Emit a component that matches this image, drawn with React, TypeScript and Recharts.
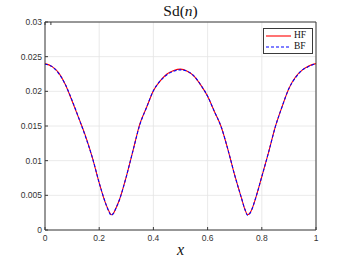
import { LineChart, Line, XAxis, YAxis, CartesianGrid, Legend } from 'recharts';

const X_VALUES = [
  0, 0.025, 0.05, 0.075, 0.1, 0.125, 0.15, 0.175, 0.2, 0.225, 0.2375, 0.244, 0.2525, 0.2625, 0.275,
  0.3, 0.325, 0.35, 0.375, 0.4, 0.425, 0.45, 0.475, 0.5, 0.525, 0.55, 0.575, 0.6, 0.625, 0.65, 0.675,
  0.7, 0.725, 0.7375, 0.748, 0.7575, 0.7675, 0.775, 0.8, 0.825, 0.85, 0.875, 0.9, 0.925, 0.95, 0.975, 1,
];

// brute force
const BF = [
  0.0239, 0.0236, 0.0226, 0.021, 0.0187, 0.0161, 0.0134, 0.0104, 0.0068, 0.0037, 0.0025, 0.0021, 0.0024, 0.0032, 0.0044,
  0.0077, 0.0115, 0.0152, 0.0177, 0.0201, 0.0215, 0.0224, 0.0229, 0.0231, 0.0229, 0.0222, 0.0209, 0.0193, 0.0171, 0.0149, 0.0116,
  0.0079, 0.0046, 0.003, 0.0021, 0.0025, 0.0034, 0.0043, 0.0077, 0.0112, 0.0149, 0.0178, 0.0204, 0.022, 0.0231, 0.0236, 0.024,
];

// HF has a little bit of jitter on top of BF
const HF = [
  0.024, 0.0236, 0.0227, 0.021, 0.0186, 0.0161, 0.0135, 0.0104, 0.0068, 0.0037, 0.0026, 0.0022, 0.0024, 0.0032, 0.0044,
  0.0077, 0.0115, 0.0153, 0.0177, 0.0201, 0.0215, 0.0225, 0.023, 0.0232, 0.0229, 0.0222, 0.0209, 0.0193, 0.0171, 0.0149, 0.0116,
  0.0079, 0.0046, 0.003, 0.0022, 0.0025, 0.0034, 0.0043, 0.0077, 0.0112, 0.0149, 0.0178, 0.0204, 0.0221, 0.0231, 0.0237, 0.024,
];

const X_TICKS = [0, 0.2, 0.4, 0.6, 0.8, 1];
const Y_TICKS = [0, 0.005, 0.01, 0.015, 0.02, 0.025, 0.03];

const data = X_VALUES.map((x, i) => ({ x, hf: HF[i], bf: BF[i] }));

const AXIS = '#3a3a3a';
const GRID = '#e4e4e4';
const TICK_FONT = { fontSize: 8.5, fill: '#333', fontFamily: '"Liberation Sans", Arial, sans-serif' };
const SERIF = '"Liberation Serif", "Times New Roman", serif';

function LegendBox() {
  const row = (label: string, color: string, dash?: string) => (
    <div style={{ display: 'flex', alignItems: 'center', height: 11 }}>
      <svg width={27} height={4} style={{ display: 'block' }}>
        <line x1={1} y1={2} x2={26} y2={2} stroke={color} strokeWidth={1.1} strokeDasharray={dash} />
      </svg>
      <span style={{ marginLeft: 2, fontFamily: SERIF, fontSize: 9.5, color: '#111', lineHeight: '11px' }}>{label}</span>
    </div>
  );
  return (
    <div
      style={{
        border: '1px solid #3a3a3a',
        background: '#fff',
        width: 47,
        height: 23,
        padding: '1px 0 0 1px',
        boxSizing: 'content-box',
      }}
    >
      {row('HF', '#ff0000')}
      {row('BF', '#0000ff', '3 2')}
    </div>
  );
}

export default function App() {
  return (
    <div style={{ position: 'absolute', left: 0, top: 0, width: 349, height: 262, background: '#fff' }}>
      <div
        style={{
          position: 'absolute',
          left: 0,
          width: 361,
          top: 2,
          textAlign: 'center',
          fontFamily: SERIF,
          fontSize: 15.5,
          color: '#111',
          lineHeight: '18px',
        }}
      >
        Sd(<i>n</i>)
      </div>
      <div
        style={{
          position: 'absolute',
          left: 0,
          width: 361,
          top: 241,
          textAlign: 'center',
          fontFamily: SERIF,
          fontStyle: 'italic',
          fontSize: 16,
          color: '#111',
          lineHeight: '18px',
        }}
      >
        x
      </div>
      <LineChart width={349} height={262} data={data} margin={{ top: 21, right: 32, bottom: 12, left: 0 }}>
        <CartesianGrid stroke={GRID} strokeWidth={0.8} />
        <XAxis
          dataKey="x"
          type="number"
          domain={[0, 1]}
          ticks={X_TICKS}
          height={20}
          tick={TICK_FONT}
          tickSize={-3}
          tickMargin={8}
          stroke={AXIS}
          tickLine={{ stroke: AXIS }}
        />
        <XAxis
          xAxisId="top"
          orientation="top"
          type="number"
          domain={[0, 1]}
          ticks={X_TICKS}
          height={1}
          tickSize={-3}
          tickFormatter={() => ''}
          stroke={AXIS}
        />
        <YAxis
          type="number"
          domain={[0, 0.03]}
          ticks={Y_TICKS}
          width={45}
          tick={TICK_FONT}
          tickSize={-3}
          tickMargin={6}
          stroke={AXIS}
          tickLine={{ stroke: AXIS }}
          allowDataOverflow
        />
        <YAxis
          yAxisId="right"
          orientation="right"
          type="number"
          domain={[0, 0.03]}
          ticks={Y_TICKS}
          width={1}
          tickSize={-3}
          tickFormatter={() => ''}
          stroke={AXIS}
        />
        <Legend
          verticalAlign="middle"
          align="center"
          content={() => <LegendBox />}
          wrapperStyle={{ position: 'absolute', top: 28, left: 263, width: 49 }}
        />
        <Line type="monotone" dataKey="hf" stroke="#ff0000" strokeWidth={1.1} dot={false} isAnimationActive={false} />
        <Line
          type="monotone"
          dataKey="bf"
          stroke="#0000ff"
          strokeWidth={1.1}
          strokeDasharray="3 2"
          dot={false}
          isAnimationActive={false}
        />
      </LineChart>
    </div>
  );
}
